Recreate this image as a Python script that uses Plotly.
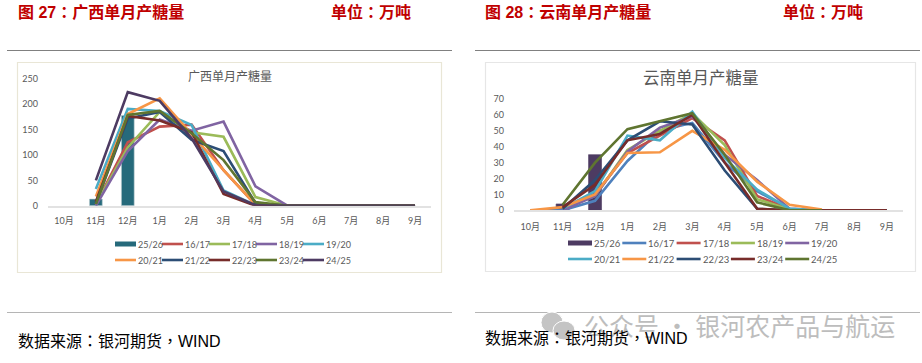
import plotly.graph_objects as go

W, H = 922, 363
months = ["10月", "11月", "12月", "1月", "2月", "3月", "4月", "5月", "6月", "7月", "8月", "9月"]
N = None

gx_names = ["25/26", "16/17", "17/18", "18/19", "19/20", "20/21", "21/22", "22/23", "23/24", "24/25"]
gx_bar = [N, 13, 178, N, N, N, N, N, N, N, N, N]
gx_1617 = [N, 3, 125, 156, 160, 70, 2, 0, 0, 0, 0, 0]
gx_1718 = [N, 3, 115, 185, 145, 136, 17, 0, 0, 0, 0, 0]
gx_1819 = [N, 0, 108, 170, 148, 166, 38, 0, 0, 0, 0, 0]
gx_1920 = [N, 33, 191, 187, 159, 30, 1, 0, 0, 0, 0, 0]
gx_2021 = [N, 18, 181, 212, 140, 70, 2, 0, 0, 0, 0, 0]
gx_2122 = [N, 5, 172, 185, 130, 108, 5, 0, 0, 0, 0, 0]
gx_2223 = [N, 8, 177, 168, 145, 23, 0, 0, 0, 0, 0, 0]
gx_2324 = [N, 3, 179, 187, 143, 90, 7, 0, 0, 0, 0, 0]
gx_2425 = [N, 50, 224, 207, 133, 28, 1, 0, 0, 0, 0, 0]
gx_lines = [gx_1617, gx_1718, gx_1819, gx_1920, gx_2021, gx_2122, gx_2223, gx_2324, gx_2425]
gx_colors = ["#C0504D", "#9BBB59", "#8064A2", "#4BACC6", "#F79646", "#2C4D75", "#772C2A", "#5F7530", "#4D3B62"]

yn_names = gx_names
yn_bar = [N, 4, 35, N, N, N, N, N, N, N, N, N]
yn_1617 = [0, 0, 6, 31, 50, 55, 30, 12, 1, 0, 0, 0]
yn_1718 = [N, 1, 10, 36, 47, 58, 44, 9, 0.5, 0, 0, 0]
yn_1819 = [N, 1, 9, 38, 50, 61, 41, 7, 0.5, 0, 0, 0]
yn_1920 = [N, 0, 9, 37, 52, 59, 35, 19, 1, 0, 0, 0]
yn_2021 = [N, 1, 12, 47, 44, 62, 33, 13, 1, 0, 0, 0]
yn_2122 = [0, 2, 10, 36, 36.5, 50, 38, 18, 3.5, 0.5, N, N]
yn_2223 = [N, 1, 19, 44, 56, 54, 25, 1, 0, 0, 0, 0]
yn_2324 = [N, 2, 16, 44, 48, 60, 30, 1, 0, 0, 0, 0]
yn_2425 = [N, 3.5, 30, 51, 56, 61, 35, 5, 0, 0, N, N]
yn_lines = [yn_1617, yn_1718, yn_1819, yn_1920, yn_2021, yn_2122, yn_2223, yn_2324, yn_2425]
yn_colors = ["#4F81BD", "#C0504D", "#9BBB59", "#8064A2", "#4BACC6", "#F79646", "#2C4D75", "#772C2A", "#5F7530"]

FONT = "Lato, 'Noto Sans CJK SC', sans-serif"
HEAD = "'Liberation Sans', 'Noto Sans CJK TC', sans-serif"


def px(v):
    return v / W


def py(v):
    return 1 - v / H


fig = go.Figure()


def add_chart(xa, ya, bar, bar_color, lines, colors, names):
    fig.add_trace(go.Bar(x=months, y=bar, name=names[0], marker=dict(color=bar_color, line=dict(color="#B9CBD0" if xa == "x" else bar_color, width=0.6)),
                         width=0.4, xaxis=xa, yaxis=ya, showlegend=False))
    for i, (vals, c) in enumerate(zip(lines, colors)):
        fig.add_trace(go.Scatter(x=months, y=vals, name=names[i + 1], mode="lines",
                                 line=dict(color=c, width=2.6), xaxis=xa, yaxis=ya,
                                 cliponaxis=False, connectgaps=False, showlegend=False))


add_chart("x", "y", gx_bar, "#266A7B", gx_lines, gx_colors, gx_names)
add_chart("x2", "y2", yn_bar, "#4D3B62", yn_lines, yn_colors, yn_names)

tick = dict(family=FONT, size=9, color="#595959")
xcommon = dict(type="category", categoryorder="array", categoryarray=months, showgrid=False, zeroline=False,
               showline=True, linecolor="#E2E2E2", linewidth=1.5, ticks="", tickfont=tick, range=[-0.5, 11.5], tickangle=0)
ycommon = dict(showgrid=False, zeroline=False, showline=False, ticks="", tickfont=tick)

shapes = []
ann = []


def line(x0, y0, x1, y1, color, width=1):
    shapes.append(dict(type="line", xref="paper", yref="paper", x0=px(x0), x1=px(x1), y0=py(y0), y1=py(y1),
                       line=dict(color=color, width=width)))


def rect(x0, y0, x1, y1, color):
    shapes.append(dict(type="rect", xref="paper", yref="paper", x0=px(x0), x1=px(x1), y0=py(y0), y1=py(y1),
                       line=dict(color=color, width=1.2), fillcolor="rgba(0,0,0,0)", layer="below"))


def box(x0, y0, x1, y1, color):
    shapes.append(dict(type="rect", xref="paper", yref="paper", x0=px(x0), x1=px(x1), y0=py(y0), y1=py(y1),
                       line=dict(width=0), fillcolor=color))


def disc(x0, y0, x1, y1, color):
    shapes.append(dict(type="circle", xref="paper", yref="paper", x0=px(x0), x1=px(x1), y0=py(y0), y1=py(y1),
                       line=dict(color="#FFFFFF", width=1), fillcolor=color, layer="above"))


def text(x, y, s, size, color, family=HEAD, anchor="left", bold=False):
    ann.append(dict(xref="paper", yref="paper", x=px(x), y=py(y), text=f"<b>{s}</b>" if bold else s, showarrow=False,
                    xanchor=anchor, yanchor="middle", borderpad=0, font=dict(family=family, size=size, color=color)))


def key(names, bar_color, colors, x0, pitch, sw, y1, y2, size):
    all_colors = [bar_color] + list(colors)
    for i, (n, c) in enumerate(zip(names, all_colors)):
        row = i // 5
        col = i % 5
        x = x0 + pitch * col
        y = y1 if row == 0 else y2
        if i == 0:
            box(x, y - 2.5, x + sw, y + 2.5, c)
        else:
            line(x, y, x + sw, y, c, 2.6)
        text(x + sw + 1, y, n, size, "#595959", family=FONT)


key(gx_names, "#266A7B", gx_colors, 115, 47, 21, 244, 260, 9)
key(yn_names, "#4D3B62", yn_colors, 568, 54.3, 24, 243, 259, 9.5)

line(7, 50.5, 452, 50.5, "#808080", 1)
line(475, 50.5, 920, 50.5, "#808080", 1)
line(7, 312.5, 452, 312.5, "#B5B5B5", 1)
line(475, 312.5, 920, 312.5, "#B5B5B5", 1)
rect(17.5, 62.5, 441.5, 272.5, "#E9E6D6")
rect(485.5, 62.5, 915.5, 271.5, "#E6E6E6")
disc(541, 312, 563, 333, "#C4C4C4")
disc(553, 321, 575, 340, "#C4C4C4")

text(17, 12, "图 27：广西单月产糖量", 16, "#C00000", bold=True)
text(330, 12, "单位：万吨", 16, "#C00000", bold=True)
text(484, 12, "图 28：云南单月产糖量", 16, "#C00000", bold=True)
text(782, 12, "单位：万吨", 16, "#C00000", bold=True)
text(230, 76, "广西单月产糖量", 12, "#595959", family=FONT, anchor="center")
text(701, 78, "云南单月产糖量", 16.5, "#595959", family=FONT, anchor="center")
text(17, 341, "数据来源：银河期货，WIND", 16, "#000000")
text(583, 325, "公众号 · 银河农产品与航运", 25, "#BDBDBD", family="'Noto Sans CJK SC', sans-serif")
text(484, 338, "数据来源：银河期货，WIND", 16, "#000000")

fig.update_layout(
    width=W, height=H, margin=dict(l=0, r=0, t=0, b=0, autoexpand=False), paper_bgcolor="#FFFFFF", plot_bgcolor="rgba(0,0,0,0)",
    barmode="overlay", showlegend=False, shapes=shapes, annotations=ann,
    xaxis=dict(domain=[px(48), px(431)], anchor="y", ticklabelstandoff=6, **xcommon),
    yaxis=dict(domain=[py(205.7), py(79)], range=[0, 250], tickvals=[0, 50, 100, 150, 200, 250], anchor="x", ticklabelstandoff=9, **ycommon),
    xaxis2=dict(domain=[px(514), px(903)], anchor="y2", ticklabelstandoff=7, **xcommon),
    yaxis2=dict(domain=[py(210.3), py(99)], range=[0, 70], tickvals=list(range(0, 71, 10)), anchor="x2", ticklabelstandoff=9, **ycommon),
)
fig.write_html("out.html", config={"displayModeBar": False},
               post_script="document.documentElement.style.margin='0';document.body.style.margin='0';document.body.style.padding='0';")
